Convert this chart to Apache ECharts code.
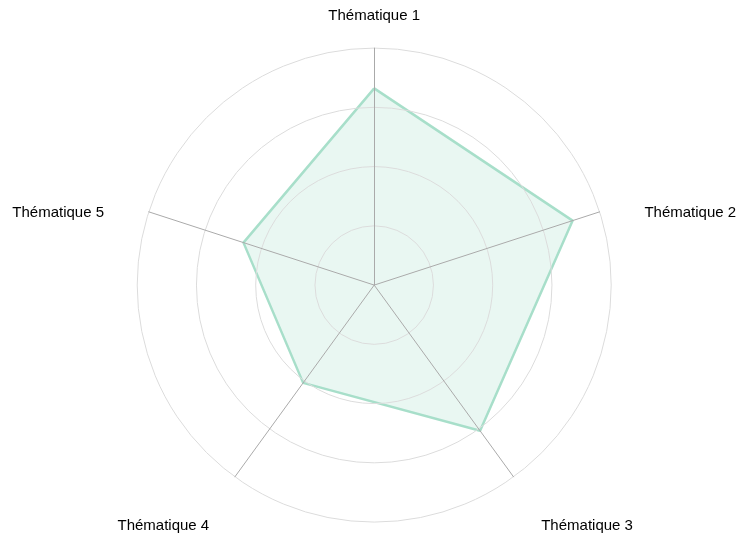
<!DOCTYPE html>
<html>
<head>
<meta charset="utf-8">
<script src="https://cdn.jsdelivr.net/npm/echarts@6/dist/echarts.min.js"></script>
<style>
html,body{margin:0;padding:0;background:#fff;}
#chart{width:741px;height:542px;}
</style>
</head>
<body>
<div id="chart"></div>
<script>
// indicateurs et valeurs
var themes=["Thématique 1","Thématique 2","Thématique 3","Thématique 4","Thématique 5"];
var scores=[83,88,76,51,58];
var maxScore=100;

var chart=echarts.init(document.getElementById("chart"));

// ordre horaire : echarts tourne dans le sens inverse, donc on inverse après le premier
var order=[0,4,3,2,1];
var indicators=[],values=[];
for(var i=0;i<order.length;i++){
    indicators.push({name:themes[order[i]],max:maxScore});
    values.push(scores[order[i]]);
}

var font="Liberation Sans, Arial, sans-serif";
// décalage des libellés, un style par indicateur
var rich={
    t0:{fontSize:15,color:"#000",fontFamily:font},
    t1:{fontSize:15,color:"#000",fontFamily:font,padding:[18,0,0,21]},
    t2:{fontSize:15,color:"#000",fontFamily:font,padding:[58,0,0,13]},
    t3:{fontSize:15,color:"#000",fontFamily:font,padding:[58,11,0,0]},
    t4:{fontSize:15,color:"#000",fontFamily:font,padding:[18,21,0,0]}
};

var option={
    animation:false,
    radar:{
        z:5, // axes au-dessus de la série
        center:["50.5%","52.6%"],
        radius:237,
        shape:"circle",
        splitNumber:4,
        startAngle:90,
        indicator:indicators,
        nameGap:25,
        axisName:{
            formatter:function(name){
                return "{t"+themes.indexOf(name)+"|"+name+"}";
            },
            rich:rich
        },
        axisLine:{lineStyle:{color:"#aaaaaa",width:1}},
        splitLine:{lineStyle:{color:"#dcdcdc",width:1}},
        splitArea:{show:false},
        axisTick:{show:false},
        axisLabel:{show:false}
    },
    series:[{
        type:"radar",
        z:1,
        symbol:"none",
        data:[{
            value:values,
            name:"Score",
            lineStyle:{color:"#a8dfca",width:2.5},
            areaStyle:{color:"#a8dfca",opacity:0.25}
        }]
    }]
};
chart.setOption(option);
</script>
</body>
</html>
